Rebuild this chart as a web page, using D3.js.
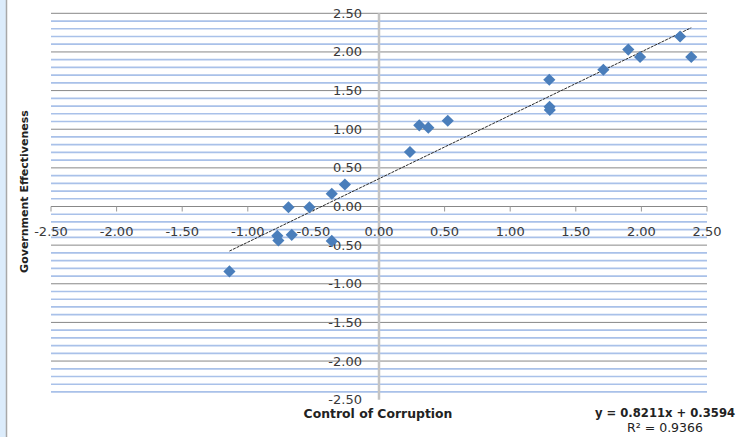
<!DOCTYPE html>
<html>
<head>
<meta charset="utf-8">
<script src="https://cdn.jsdelivr.net/npm/d3@7"></script>
<style>
  body { margin: 0; background: #fff; }
  text { font-family: "DejaVu Sans", sans-serif; }
</style>
</head>
<body>
<div id="chart"></div>
<script>
// control of corruption (x) vs government effectiveness (y)
const corruption = [-1.14, -0.775, -0.767, -0.665, -0.69, -0.53, -0.36, -0.36, -0.26,
  0.236, 0.307, 0.376, 0.524, 1.298, 1.30, 1.302, 1.71, 1.90, 1.99, 2.295, 2.38]
const effectiveness = [-0.84, -0.38, -0.44, -0.367, -0.01, -0.01, -0.445, 0.165, 0.285,
  0.705, 1.05, 1.02, 1.11, 1.64, 1.29, 1.25, 1.77, 2.03, 1.935, 2.20, 1.935]

const xTicks = [-2.5, -2, -1.5, -1, -0.5, 0, 0.5, 1, 1.5, 2, 2.5]
const yTicks = [-2.5, -2, -1.5, -1, -0.5, 0, 0.5, 1, 1.5, 2, 2.5]
const slope = 0.8211
const intercept = 0.3594
const eqLabel = "y = 0.8211x + 0.3594"
const r2Label = "R² = 0.9366"

const W = 737, H = 437

const svg = d3.select('#chart').append('svg')
    .attr('width', W)
    .attr('height', H)

// window frame at left
svg.append('rect').attr('x', 0).attr('y', 0).attr('width', 6).attr('height', H).attr('fill', '#dcecfb')
svg.append('line').attr('x1', 6.5).attr('x2', 6.5).attr('y1', 0).attr('y2', H)
    .attr('stroke', '#a8a8a8').attr('stroke-width', 1.5)

const x = d3.scaleLinear().domain([-2.5, 2.5]).range([51, 707])
const y = d3.scaleLinear().domain([-2.5, 2.5]).range([399.7, 13.3])

const fmt = d3.formatLocale({decimal: '.', thousands: ',', grouping: [3], currency: ['', ''], minus: '-'}).format('.2f')

// minor gridlines every 0.1
const minor = y.ticks(50).filter(v => Math.abs(v * 2 - Math.round(v * 2)) > 1e-6)
svg.append('g').selectAll('line')
    .data(minor)
    .enter()
    .append('line')
    .attr('x1', 51).attr('x2', 707)
    .attr('y1', d => y(d)).attr('y2', d => y(d))
    .attr('stroke', '#a9c1e9')
    .attr('stroke-width', 1.7)

// major gridlines
svg.append('g').selectAll('line')
    .data(yTicks.filter(v => v > -2.5))
    .enter()
    .append('line')
    .attr('x1', 51).attr('x2', 707)
    .attr('y1', d => y(d)).attr('y2', d => y(d))
    .attr('stroke', '#888')
    .attr('stroke-width', 1)

// vertical axis at x = 0
svg.append('line')
    .attr('x1', x(0)).attr('x2', x(0))
    .attr('y1', y(2.5)).attr('y2', y(-2.5))
    .attr('stroke', '#c4c4c4').attr('stroke-width', 2.5)

// x axis ticks at y = 0
svg.append('g').selectAll('line')
    .data(xTicks)
    .enter()
    .append('line')
    .attr('x1', d => x(d)).attr('x2', d => x(d))
    .attr('y1', y(0)).attr('y2', y(0) + 5)
    .attr('stroke', '#999')

svg.append('g').selectAll('text')
    .data(xTicks)
    .enter()
    .append('text')
    .attr('x', d => x(d))
    .attr('y', y(0) + 29)
    .attr('text-anchor', 'middle')
    .attr('font-size', 13)
    .attr('fill', '#3a3a3a')
    .text(d => fmt(d))

svg.append('g').selectAll('text')
    .data(yTicks)
    .enter()
    .append('text')
    .attr('x', 362)
    .attr('y', d => y(d) + 4.5)
    .attr('text-anchor', 'end')
    .attr('font-size', 13)
    .attr('fill', '#3a3a3a')
    .text(d => fmt(d))

// trendline over data range
const xmin = d3.min(corruption), xmax = d3.max(corruption)
svg.append('line')
    .attr('x1', x(xmin)).attr('y1', y(slope * xmin + intercept))
    .attr('x2', x(xmax)).attr('y2', y(slope * xmax + intercept))
    .attr('stroke', '#2a2a2a')
    .attr('stroke-width', 1)
    .attr('stroke-dasharray', '3,1')

// points
const pts = corruption.map((c, i) => [c, effectiveness[i]])
const diamond = d3.symbol().type(d3.symbolSquare).size(74)
svg.append('g').selectAll('path')
    .data(pts)
    .enter()
    .append('path')
    .attr('d', diamond)
    .attr('transform', d => `translate(${x(d[0])},${y(d[1])}) rotate(45)`)
    .attr('fill', '#4a7ebb')

// titles
svg.append('text')
    .attr('x', 378).attr('y', 418)
    .attr('text-anchor', 'middle')
    .attr('font-size', 12.4)
    .attr('font-weight', 'bold')
    .attr('fill', '#222')
    .text('Control of Corruption')

svg.append('text')
    .attr('transform', 'translate(28,191.5) rotate(-90)')
    .attr('text-anchor', 'middle')
    .attr('font-size', 11)
    .attr('font-weight', 'bold')
    .attr('fill', '#222')
    .text('Government Effectiveness')

svg.append('text')
    .attr('x', 665).attr('y', 417)
    .attr('text-anchor', 'middle')
    .attr('font-size', 11.6)
    .attr('font-weight', 'bold')
    .attr('fill', '#222')
    .text(eqLabel)

svg.append('text')
    .attr('x', 665).attr('y', 432)
    .attr('text-anchor', 'middle')
    .attr('font-size', 12.5)
    .attr('fill', '#222')
    .text(r2Label)
</script>
</body>
</html>
